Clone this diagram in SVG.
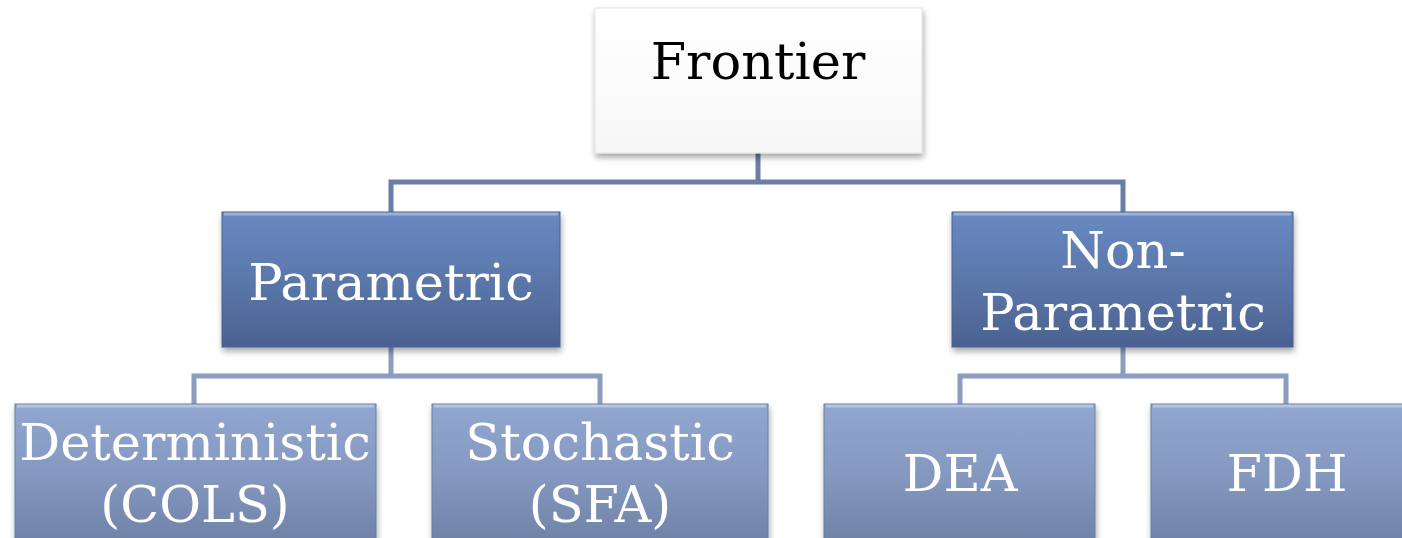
<svg xmlns="http://www.w3.org/2000/svg" width="1402" height="538" viewBox="0 0 1402 538">
<defs>
<linearGradient id="gWhite" x1="0" y1="0" x2="0" y2="1"><stop offset="0" stop-color="#ffffff"/><stop offset="1" stop-color="#f7f7f7"/></linearGradient>
<linearGradient id="gMid" x1="0" y1="0" x2="0" y2="1"><stop offset="0" stop-color="#6889c2"/><stop offset="0.5" stop-color="#5b77aa"/><stop offset="1" stop-color="#4b6290"/></linearGradient>
<linearGradient id="gLow" x1="0" y1="0" x2="0" y2="1"><stop offset="0" stop-color="#92a7d0"/><stop offset="0.5" stop-color="#8397bf"/><stop offset="1" stop-color="#6b7ea2"/></linearGradient>
<filter id="sh" x="-10%" y="-10%" width="120%" height="130%"><feGaussianBlur in="SourceAlpha" stdDeviation="3"/><feOffset dx="1" dy="4"/><feComponentTransfer><feFuncA type="linear" slope="0.35"/></feComponentTransfer><feMerge><feMergeNode/><feMergeNode in="SourceGraphic"/></feMerge></filter>
</defs>
<style>
.t{font-family:"DejaVu Serif","Liberation Serif",serif;font-size:51px;text-anchor:middle}
.w{fill:#ffffff}
.k{fill:#000000}
.c1{fill:none;stroke:#6a7ea6;stroke-width:5}
.c2{fill:none;stroke:#8c9dc0;stroke-width:5}
.bw{fill:url(#gWhite);stroke:#e2e2e2;stroke-width:1;filter:url(#sh)}
.bm{fill:url(#gMid);stroke:#4a6090;stroke-width:1;filter:url(#sh)}
.bl{fill:url(#gLow);stroke:#6a7ca0;stroke-width:1;filter:url(#sh)}
.hi{fill:none;stroke:#ffffff;stroke-opacity:0.35;stroke-width:3}
</style>
<rect width="1402" height="538" fill="#ffffff"/>
<g id="connectors">
<path class="c1" d="M758 153 V182 M391 212 V182 H1123 V212"/>
<path class="c2" d="M391 347 V376 M194 404 V376 H600 V404"/>
<path class="c2" d="M1123 347 V376 M960 404 V376 H1286 V404"/>
</g>
<g id="frontier">
<rect class="bw" x="595" y="8" width="327" height="145"/>
<text class="t k" x="758" y="79">Frontier</text>
</g>
<g id="parametric">
<rect class="bm" x="222" y="212" width="338" height="135"/>
<path class="hi" d="M224 214 H558"/>
<text class="t w" x="391" y="300">Parametric</text>
</g>
<g id="nonparametric">
<rect class="bm" x="952" y="212" width="341" height="135"/>
<path class="hi" d="M954 214 H1291"/>
<text class="t w" x="1123" y="268">Non-</text>
<text class="t w" x="1123" y="330">Parametric</text>
</g>
<g id="deterministic">
<rect class="bl" x="15" y="404" width="361" height="150"/>
<path class="hi" d="M17 406 H374"/>
<text class="t w" x="195" y="460">Deterministic</text>
<text class="t w" x="195" y="522">(COLS)</text>
</g>
<g id="stochastic">
<rect class="bl" x="432" y="404" width="336" height="150"/>
<path class="hi" d="M434 406 H766"/>
<text class="t w" x="600" y="460">Stochastic</text>
<text class="t w" x="600" y="522">(SFA)</text>
</g>
<g id="dea">
<rect class="bl" x="824" y="404" width="271" height="150"/>
<path class="hi" d="M826 406 H1093"/>
<text class="t w" x="960" y="491">DEA</text>
</g>
<g id="fdh">
<rect class="bl" x="1151" y="404" width="271" height="150"/>
<path class="hi" d="M1153 406 H1420"/>
<text class="t w" x="1287" y="491">FDH</text>
</g>
</svg>
